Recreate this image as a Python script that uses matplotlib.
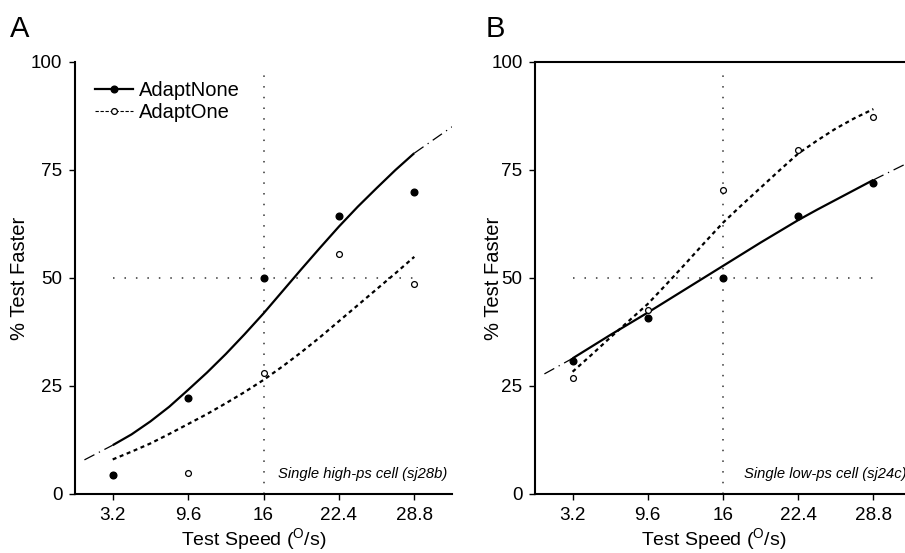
import matplotlib
matplotlib.use("Agg")
import matplotlib.pyplot as plt
from matplotlib.lines import Line2D

plt.rcParams['font.family'] = ['Liberation Sans', 'DejaVu Sans']
plt.rcParams['mathtext.fontset'] = 'custom'
plt.rcParams['mathtext.rm'] = 'Liberation Sans'
plt.rcParams['mathtext.it'] = 'Liberation Sans:italic'

# ---------------- data ----------------
speeds = [3.2, 9.6, 16, 22.4, 28.8]
tick_labels = ["3.2", "9.6", "16", "22.4", "28.8"]
yticks = [0, 25, 50, 75, 100]

# Panel A (single high-ps cell sj28b)
a_none = [4.5, 22.2, 49.9, 64.3, 70.0]
a_one = [4.5, 4.9, 28.0, 55.5, 48.6]
# Panel B (single low-ps cell sj24c)
b_none = [30.9, 40.7, 49.9, 64.3, 72.1]
b_one = [26.9, 42.6, 70.4, 79.6, 87.2]

# fitted curves
fit_x = [3.2, 4.8, 6.4, 8.0, 9.6, 11.2, 12.8, 14.4, 16,
         17.6, 19.2, 20.8, 22.4, 24.0, 25.6, 27.2, 28.8]
a_none_fit = [11.3, 13.8, 16.8, 20.2, 24.1, 28.1, 32.4, 37.0, 41.8,
              46.9, 52.0, 57.0, 61.9, 66.5, 70.8, 75.0, 78.9]
a_one_fit = [8.0, 9.8, 11.7, 13.9, 16.2, 18.5, 21.0, 23.6, 26.4,
             29.5, 32.8, 36.3, 40.0, 43.7, 47.4, 51.1, 54.9]
b_none_fit = [31.4, 34.1, 36.8, 39.4, 42.0, 44.7, 47.4, 50.1, 52.8,
              55.5, 58.2, 60.8, 63.4, 65.8, 68.1, 70.4, 72.7]
b_one_fit = [28.3, 32.2, 36.2, 40.1, 44.0, 48.6, 53.3, 58.1, 62.8,
             66.9, 70.9, 74.9, 78.8, 81.8, 84.6, 87.0, 89.1]

# extrapolated parts of the AdaptNone fit (dash-dot)
ext_left_x = [0.8, 3.2]
ext_right_x = [28.8, 32]
a_ext_left = [7.9, 11.3]
a_ext_right = [78.9, 85.0]
b_ext_left = [27.8, 31.4]
b_ext_right = [72.7, 77.0]

ref_x = 16
ref_y = 50

fig = plt.figure(figsize=(9.05, 5.53), dpi=100)

ax_a = fig.add_axes([75/905, 1-494/553, 377/905, 432/553])
ax_b = fig.add_axes([535/905, 1-494/553, 376/905, 432/553])

dot_ls = (0, (1, 6))
fit_dash = (0, (1.8, 1.6))
dashdot = (0, (9, 4, 1, 4))


def draw(ax, none, one, none_fit, one_fit, eleft, eright, note, ylab_x):
    ax.plot([ref_x, ref_x], [0, 98], color='#333333', lw=1.1, ls=dot_ls)
    ax.plot([speeds[0], speeds[-1]], [ref_y, ref_y], color='#333333', lw=1.1, ls=(0, (1, 6.5)))
    ax.plot(ext_left_x, eleft, color='black', lw=0.9, ls=dashdot)
    ax.plot(ext_right_x, eright, color='black', lw=0.9, ls=dashdot)
    ax.plot(fit_x, none_fit, color='black', lw=1.6, solid_capstyle='butt',
            solid_joinstyle='round')
    ax.plot(fit_x, one_fit, color='black', lw=1.6, ls=fit_dash)
    ax.plot(speeds, one, ls='none', marker='o', ms=4.2, mfc='white', mec='black', mew=0.9)
    ax.plot(speeds, none, ls='none', marker='o', ms=4.8, mfc='black', mec='black')
    ax.set_xlim(0, 32)
    ax.set_ylim(0, 100)
    ax.set_xticks(speeds)
    ax.set_xticklabels(tick_labels)
    ax.set_yticks(yticks)
    ax.tick_params(direction='out', length=4, width=1, labelsize=13.6, pad=5)
    ax.set_xlabel('Test Speed ($^{\\mathrm{O}}$/s)', fontsize=14)
    ax.xaxis.set_label_coords(0.475, -0.074)
    ax.set_ylabel('% Test Faster', fontsize=14.5)
    ax.yaxis.set_label_coords(ylab_x, 0.5)
    ax.text(31.6, 4.6, note, fontsize=10.6, style='italic', ha='right', va='center')
    for s in ax.spines.values():
        s.set_linewidth(1.5)
    ax.spines['right'].set_visible(False)


draw(ax_a, a_none, a_one, a_none_fit, a_one_fit, a_ext_left, a_ext_right,
     'Single high-ps cell (sj28b)', -0.121)
ax_a.spines['top'].set_visible(False)
draw(ax_b, b_none, b_one, b_none_fit, b_one_fit, b_ext_left, b_ext_right,
     'Single low-ps cell (sj24c)', -0.086)

handles = [
    Line2D([], [], color='black', lw=1.6, marker='o', ms=4.8, mfc='black'),
    Line2D([], [], color='black', lw=0.8, ls=(0, (3, 1.5)), marker='o', ms=4.2,
           mfc='white', mec='black', mew=0.9),
]
ax_a.legend(handles, ['AdaptNone', 'AdaptOne'], loc='upper left',
            bbox_to_anchor=(0.053, 0.957), frameon=False, fontsize=14.5,
            handlelength=1.9, handletextpad=0.3, borderpad=0, labelspacing=0.15,
            borderaxespad=0)

fig.text(10/905, 1-37/553, 'A', fontsize=21, va='baseline', ha='left')
fig.text(486/905, 1-37/553, 'B', fontsize=21, va='baseline', ha='left')

fig.savefig('out.png', dpi=100)
